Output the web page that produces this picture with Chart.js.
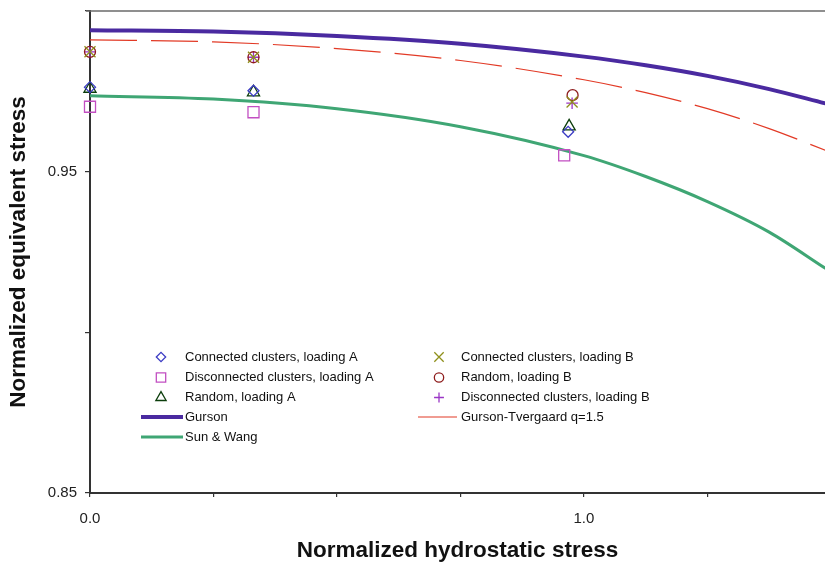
<!DOCTYPE html>
<html>
<head>
<meta charset="utf-8">
<script src="https://cdn.jsdelivr.net/npm/chart.js@4/dist/chart.umd.min.js"></script>
<style>
  html, body { margin: 0; padding: 0; background: #ffffff; }
  #wrap { width: 825px; height: 564px; }
</style>
</head>
<body>
<div id="wrap"><canvas id="c" width="825" height="564"></canvas></div>
<script>
// ---- data ----
const xCurve = [0, 0.25, 0.5, 0.75, 1.0, 1.125, 1.25, 1.375, 1.49];
const gurson = [0.9940, 0.9936, 0.9922, 0.9898, 0.9858, 0.9831, 0.9798, 0.9757, 0.9712];
const gursonTvergaard = [0.9910, 0.9904, 0.9883, 0.9846, 0.9786, 0.9746, 0.9696, 0.9634, 0.9566];
const sunWang = [0.9736, 0.9726, 0.9696, 0.9640, 0.9550, 0.9485, 0.9407, 0.9312, 0.9198];

const connAx = [0, 0.331, 0.968];  const connAy = [0.9763, 0.9752, 0.9624];
const connBx = [0, 0.331, 0.976];  const connBy = [0.9873, 0.9856, 0.9717];
const discAx = [0, 0.331, 0.960];  const discAy = [0.9702, 0.9685, 0.9551];
const randBx = [0, 0.331, 0.977];  const randBy = [0.9873, 0.9856, 0.9738];
const randAx = [0, 0.331, 0.970];  const randAy = [0.9758, 0.9747, 0.9641];
const discBx = [0, 0.331, 0.976];  const discBy = [0.9873, 0.9856, 0.9713];

const xTickLabels = { 0: '0.0', 1: '1.0' };
const yTickLabels = ['0.85', '0.95'];

const pts = (xs, ys) => xs.map((x, i) => ({ x: x, y: ys[i] }));

function markerSet(label, xs, ys, style, color, radius) {
  return {
    label: label, data: pts(xs, ys), showLine: false, clip: false,
    pointStyle: style, pointRadius: radius, pointHoverRadius: radius,
    borderColor: color, backgroundColor: 'rgba(0,0,0,0)', borderWidth: 1.3
  };
}
function lineSet(label, ys, color, width, dash) {
  return {
    label: label, data: pts(xCurve, ys), showLine: true,
    borderColor: color, backgroundColor: color, borderWidth: width,
    borderDash: dash || [], pointRadius: 0, cubicInterpolationMode: 'monotone', fill: false
  };
}

const datasets = [
  markerSet('Connected clusters, loading A', connAx, connAy, 'rectRot', '#3c3cc4', 5.5),
  markerSet('Connected clusters, loading B', connBx, connBy, 'crossRot', '#8f901c', 7.8),
  markerSet('Disconnected clusters, loading A', discAx, discAy, 'rect', '#c24fc2', 7.8),
  markerSet('Random, loading B', randBx, randBy, 'circle', '#8e1c1c', 5.5),
  markerSet('Random, loading A', randAx, randAy, 'triangle', '#0b3d0b', 7),
  markerSet('Disconnected clusters, loading B', discBx, discBy, 'cross', '#9a36c6', 5.8),
  lineSet('Gurson', gurson, '#4a2aa0', 4),
  lineSet('Gurson-Tvergaard q=1.5', gursonTvergaard, '#e23a26', 1.2, [47, 14]),
  lineSet('Sun & Wang', sunWang, '#3fa674', 3)
];

const legendPlugin = {
  id: 'gridLegend',
  afterDraw(chart) {
    const ctx = chart.ctx;
    const cols = [
      { sym: 161, lineFrom: 141, lineTo: 183, text: 185 },
      { sym: 439, lineFrom: 418, lineTo: 457, text: 461 }
    ];
    const rowY = [357, 377.5, 397.5, 417, 437];
    chart.data.datasets.forEach((ds, i) => {
      const c = cols[i % 2];
      const y = rowY[Math.floor(i / 2)];
      ctx.save();
      if (ds.showLine === false) {
        ctx.strokeStyle = ds.borderColor;
        ctx.fillStyle = 'rgba(0,0,0,0)';
        ctx.lineWidth = ds.borderWidth;
        Chart.helpers.drawPoint(ctx, {
          pointStyle: ds.pointStyle, radius: ds.pointRadius * 0.85,
          rotation: 0, borderWidth: ds.borderWidth
        }, c.sym, y);
      } else {
        ctx.strokeStyle = ds.borderColor;
        ctx.lineWidth = ds.borderWidth;
        ctx.beginPath();
        ctx.moveTo(c.lineFrom, y);
        ctx.lineTo(c.lineTo, y);
        ctx.stroke();
      }
      ctx.fillStyle = '#111111';
      ctx.font = '13px "Liberation Sans", Arial, sans-serif';
      ctx.textBaseline = 'middle';
      ctx.textAlign = 'left';
      ctx.fillText(ds.label, c.text, y);
      ctx.restore();
    });
    // top frame line
    const a = chart.chartArea;
    ctx.save();
    ctx.strokeStyle = '#6a6a6a';
    ctx.lineWidth = 1.5;
    ctx.beginPath();
    ctx.moveTo(a.left - 4, a.top);
    ctx.lineTo(a.right, a.top);
    ctx.stroke();
    ctx.restore();
  }
};

function zeroPad(s) {
  s.paddingTop = 0; s.paddingBottom = 0; s.paddingLeft = 0; s.paddingRight = 0;
}

new Chart(document.getElementById('c'), {
  type: 'scatter',
  data: { datasets: datasets },
  plugins: [legendPlugin],
  options: {
    responsive: false,
    animation: false,
    layout: { autoPadding: false, padding: { top: 11, right: 0, left: 0, bottom: 0 } },
    plugins: { legend: { display: false }, tooltip: { enabled: false } },
    scales: {
      x: {
        type: 'linear', min: 0, max: 1.488,
        afterFit: (s) => { s.height = 71; zeroPad(s); },
        border: { display: true, color: '#333333', width: 2 },
        grid: { display: true, drawOnChartArea: false, drawTicks: true, tickLength: 4, color: '#333333', lineWidth: 1.2 },
        ticks: {
          stepSize: 0.25, padding: 13, color: '#222222', maxRotation: 0, autoSkip: false, includeBounds: false,
          font: { family: '"Liberation Sans", Arial, sans-serif', size: 15 },
          callback: (v) => {
            const k = Math.round(v * 1000) / 1000;
            return Object.prototype.hasOwnProperty.call(xTickLabels, k) ? xTickLabels[k] : '';
          }
        },
        title: {
          display: true, text: 'Normalized hydrostatic stress', color: '#111111',
          padding: { top: 0, bottom: 0 },
          font: { family: '"Liberation Sans", Arial, sans-serif', size: 22.5, weight: 'bold' }
        }
      },
      y: {
        type: 'linear', min: 0.85, max: 1.0,
        afterFit: (s) => { s.width = 90; zeroPad(s); },
        border: { display: true, color: '#333333', width: 2 },
        grid: { display: true, drawOnChartArea: false, drawTicks: true, tickLength: 5, color: '#333333', lineWidth: 1.2 },
        ticks: {
          stepSize: 0.05, padding: 8, color: '#222222', autoSkip: false,
          font: { family: '"Liberation Sans", Arial, sans-serif', size: 15 },
          callback: (v) => {
            const s = (Math.round(v * 100) / 100).toFixed(2);
            return yTickLabels.indexOf(s) >= 0 ? s : '';
          }
        },
        title: {
          display: true, text: 'Normalized equivalent stress', color: '#111111',
          padding: { top: 5.5, bottom: 0 },
          font: { family: '"Liberation Sans", Arial, sans-serif', size: 22.5, weight: 'bold' }
        }
      }
    }
  }
});
</script>
</body>
</html>
